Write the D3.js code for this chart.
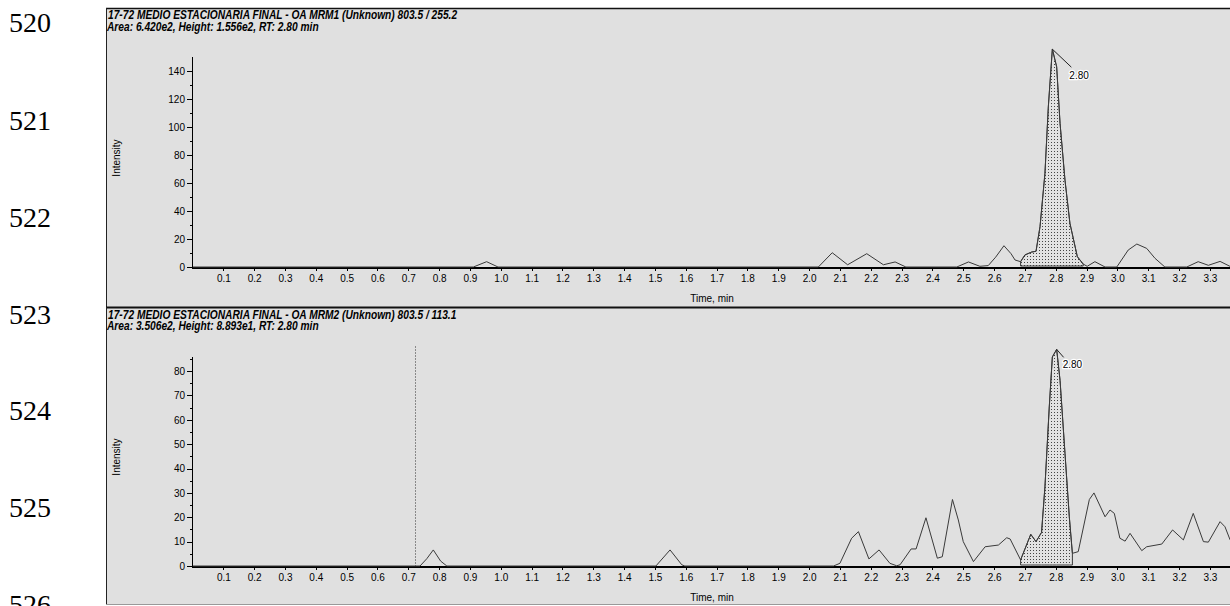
<!DOCTYPE html>
<meta charset="utf-8">
<style>
body { margin: 0; background: #fff; }
.axis text { font: 10px "Liberation Sans", Arial, sans-serif; fill: #000; }
.axis path, .axis line { stroke: #000; shape-rendering: crispEdges; }
.title { font: italic bold 12px "Liberation Sans Narrow", "Liberation Sans", Arial, sans-serif; }
.lineno { font: 28px "Liberation Serif", "Times New Roman", serif; }
.trace { fill: none; stroke: #3a3a3a; stroke-width: 1; }
.peak { fill: url(#dots); stroke: #3a3a3a; stroke-width: 1; }
.rt { font: 10px "Liberation Sans", Arial, sans-serif; paint-order: stroke; stroke: #fff; stroke-width: 2.5px; stroke-linejoin: round; }
</style>
<body>
<script src="https://cdn.jsdelivr.net/npm/d3@7"></script>
<script>
// line numbers down the left margin
var lineNumbers = ["520", "521", "522", "523", "524", "525", "526"];

// panel 1: MRM1 803.5 / 255.2
var title1 = "17-72 MEDIO ESTACIONARIA FINAL - OA MRM1 (Unknown) 803.5 / 255.2";
var info1 = "Area: 6.420e2, Height: 1.556e2, RT: 2.80 min";
var times1 = [0, 0.911, 0.954, 0.991, 2.030, 2.075, 2.125, 2.187, 2.241, 2.279, 2.314, 2.479, 2.517, 2.554, 2.581,
  2.605, 2.632, 2.655, 2.668, 2.686, 2.700, 2.722, 2.736, 2.749, 2.765, 2.776, 2.789, 2.803, 2.814, 2.830, 2.846,
  2.870, 2.889, 2.902, 2.927, 2.960, 2.998, 3.035, 3.063, 3.095, 3.122, 3.154, 3.225, 3.262, 3.295, 3.333, 3.365, 3.40];
var values1 = [0, 0, 3.8, 0, 0, 10.2, 1.6, 9.5, 1.6, 3.6, 0, 0, 3.6, 0.5, 1,
  7, 15.2, 9.5, 5, 3.8, 8.6, 10.7, 11.2, 28.8, 66.9, 114.5, 155.6, 143, 102.6, 62, 31.2,
  7.4, 2.1, 0.5, 3.8, 0, 0, 12.1, 16.4, 13.3, 6.2, 0, 0, 3.8, 1.2, 4, 0.5, 2];
var yTicks1 = [0, 20, 40, 60, 80, 100, 120, 140];
var peak1 = {start: 2.686, end: 2.889, apex: 2.789, label: "2.80"};

// panel 2: MRM2 803.5 / 113.1
var title2 = "17-72 MEDIO ESTACIONARIA FINAL - OA MRM2 (Unknown) 803.5 / 113.1";
var info2 = "Area: 3.506e2, Height: 8.893e1, RT: 2.80 min";
var times2 = [0, 0.738, 0.760, 0.781, 0.805, 0.825, 1.503, 1.549, 1.587, 1.597, 2.079, 2.100, 2.138, 2.160, 2.194,
  2.227, 2.262, 2.284, 2.295, 2.331, 2.347, 2.379, 2.416, 2.432, 2.465, 2.484, 2.500, 2.533, 2.571, 2.614, 2.641,
  2.652, 2.686, 2.719, 2.736, 2.754, 2.765, 2.779, 2.789, 2.803, 2.814, 2.830, 2.844, 2.854, 2.873, 2.909, 2.924,
  2.960, 2.976, 2.990, 3.008, 3.025, 3.041, 3.079, 3.095, 3.144, 3.179, 3.214, 3.246, 3.279, 3.295, 3.333, 3.349, 3.365, 3.40];
var values2 = [0, 0, 3, 6.6, 2, 0, 0, 6.6, 0.5, 0, 0, 1.1, 11.4, 14.1, 2.9,
  6.6, 1.1, 0.1, 0.5, 7, 7, 19.8, 3.2, 3.8, 27.3, 18.9, 10, 1.8, 7.9, 8.6, 11.6,
  11.1, 2.5, 13, 10, 13.8, 32.5, 65.3, 85.8, 88.93, 76.2, 46.2, 20.2, 5.2, 5.9, 27.3, 30,
  20.2, 23, 21.6, 11.4, 10.2, 13.4, 6.3, 7.9, 9, 14.8, 10.7, 21.6, 10, 9.8, 18.2, 16.1, 10.9, 4];
var yTicks2 = [0, 10, 20, 30, 40, 50, 60, 70, 80];
var peak2 = {start: 2.686, end: 2.854, apex: 2.803, label: "2.80"};
var marker2 = 0.722;

// labelled time ticks stop at 3.3 (3.4 falls past the window edge)
var xTicks = d3.range(1, 34).map(function(i) { return i / 10; });
var xMinor = d3.range(0, 34).map(function(i) { return i / 10 + 0.05; });

var W = 1230, H = 606;
var svg = d3.select("body").append("svg").attr("width", W).attr("height", H);

// stipple pattern for integrated peak
var pat = svg.append("defs").append("pattern")
    .attr("id", "dots").attr("width", 3).attr("height", 3)
    .attr("patternUnits", "userSpaceOnUse");
pat.append("rect").attr("width", 3).attr("height", 3).attr("fill", "#e2e2e2");
pat.append("rect").attr("x", 1).attr("y", 1).attr("width", 1).attr("height", 1).attr("fill", "#444");

// line numbers
var lnY = [22, 120, 217, 314, 410, 507, 604];
svg.selectAll(".lineno").data(lineNumbers).enter().append("text")
    .attr("class", "lineno")
    .attr("x", 9).attr("y", function(d, i) { return lnY[i] + 10; })
    .text(function(d) { return d; });

var x = d3.scaleLinear().domain([0, 3.4]).range([192.5, 192.5 + 34 * 30.83]);

function panel(cfg) {
  var g = svg.append("g");
  g.append("rect").attr("x", 106).attr("y", cfg.top).attr("width", W).attr("height", cfg.bottom - cfg.top)
    .attr("fill", "#e0e0e0");
  g.append("line").attr("x1", 106).attr("x2", W).attr("y1", cfg.top + 0.5).attr("y2", cfg.top + 0.5)
    .attr("stroke", "#111").attr("stroke-width", cfg.topWidth);
  g.append("line").attr("x1", 106.5).attr("x2", 106.5).attr("y1", cfg.top).attr("y2", cfg.bottom)
    .attr("stroke", "#222");

  var t1 = g.append("text").attr("class", "title").attr("x", 0).attr("y", 0).text(cfg.title);
  var t2 = g.append("text").attr("class", "title").attr("x", 0).attr("y", 0).text(cfg.info);
  var sx = 212 / t2.node().getComputedTextLength();
  t1.attr("transform", "translate(108," + cfg.titleY[0] + ") scale(" + sx + ",1)");
  t2.attr("transform", "translate(107," + cfg.titleY[1] + ") scale(" + sx + ",1)");

  var y = d3.scaleLinear().domain(cfg.yDomain).range([cfg.y0, cfg.yTop]);

  // y axis with minor ticks
  var yg = g.append("g").attr("class", "axis").attr("transform", "translate(192,0)");
  yg.call(d3.axisLeft(y).tickValues(cfg.yMinor).tickSize(2).tickFormat(""));
  yg.append("g").call(d3.axisLeft(y).tickValues(cfg.yTicks).tickSize(5).tickPadding(2));
  yg.selectAll(".domain").remove();
  yg.append("line").attr("x1", 0.5).attr("x2", 0.5).attr("y1", cfg.yTop).attr("y2", cfg.y0).attr("stroke", "#000");

  // x axis with minor ticks
  var xg = g.append("g").attr("class", "axis").attr("transform", "translate(0," + cfg.y0 + ")");
  xg.call(d3.axisBottom(x).tickValues(xMinor).tickSize(2).tickFormat(""));
  xg.append("g").call(d3.axisBottom(x).tickValues(xTicks).tickSize(4).tickPadding(4).tickFormat(d3.format(".1f")));
  xg.selectAll(".domain").remove();
  xg.append("line").attr("x1", 192).attr("x2", W).attr("y1", 0.5).attr("y2", 0.5)
    .attr("stroke", "#000").attr("stroke-width", 2);

  g.append("text").attr("x", 712).attr("y", cfg.y0 + 35)
    .attr("text-anchor", "middle").style("font", "10px 'Liberation Sans', Arial, sans-serif").text("Time, min");
  g.append("text").attr("transform", "translate(120," + cfg.yLabel + ") rotate(-90)")
    .attr("text-anchor", "middle").style("font", "10px 'Liberation Sans', Arial, sans-serif").text("Intensity");

  var pts = cfg.times.map(function(t, i) { return [t, cfg.values[i]]; });
  var clipId = "clip" + cfg.top;
  g.append("clipPath").attr("id", clipId).append("rect")
    .attr("x", 193).attr("y", cfg.top + 1).attr("width", W).attr("height", cfg.bottom - cfg.top);

  var inPeak = pts.filter(function(p) { return p[0] >= cfg.peak.start && p[0] <= cfg.peak.end; });
  var area = d3.area().x(function(p) { return x(p[0]); }).y0(y(0) - 1).y1(function(p) { return y(p[1]); });
  g.append("path").datum(inPeak).attr("class", "peak").attr("d", area);

  g.append("path").datum(pts).attr("class", "trace").attr("clip-path", "url(#" + clipId + ")")
    .attr("d", d3.line().x(function(p) { return x(p[0]); }).y(function(p) { return y(Math.max(p[1], 0)); }));

  if (cfg.marker) {
    g.append("line").attr("x1", Math.round(x(cfg.marker)) + 0.5).attr("x2", Math.round(x(cfg.marker)) + 0.5)
      .attr("y1", cfg.yTop - 10).attr("y2", cfg.y0)
      .attr("stroke", "#333").attr("stroke-dasharray", "1,2");
  }

  var apex = pts.filter(function(p) { return p[0] === cfg.peak.apex; })[0];
  var ax = x(apex[0]), ay = y(apex[1]);
  g.append("line").attr("x1", ax).attr("y1", ay).attr("x2", ax + cfg.lbl[0]).attr("y2", ay + cfg.lbl[1])
    .attr("stroke", "#222");
  g.append("text").attr("class", "rt").attr("x", ax + cfg.lbl[2]).attr("y", ay + cfg.lbl[3]).text(cfg.peak.label);
}

panel({
  top: 8, bottom: 307, topWidth: 1.5, title: title1, info: info1, titleY: [19, 31],
  times: times1, values: values1, yDomain: [0, 150], y0: 267, yTop: 57,
  yTicks: yTicks1, yMinor: d3.range(10, 150, 20), yLabel: 158,
  peak: peak1, lbl: [19, 18, 17, 30]
});

panel({
  top: 307, bottom: 604, topWidth: 2, title: title2, info: info2, titleY: [318.5, 329.5],
  times: times2, values: values2, yDomain: [0, 86], y0: 566, yTop: 356.5,
  yTicks: yTicks2, yMinor: d3.range(5, 86, 10), yLabel: 457,
  peak: peak2, lbl: [7, 8, 6, 19], marker: marker2
});

svg.append("line").attr("x1", 106).attr("x2", W).attr("y1", 604.5).attr("y2", 604.5).attr("stroke", "#999");
</script>
</body>
